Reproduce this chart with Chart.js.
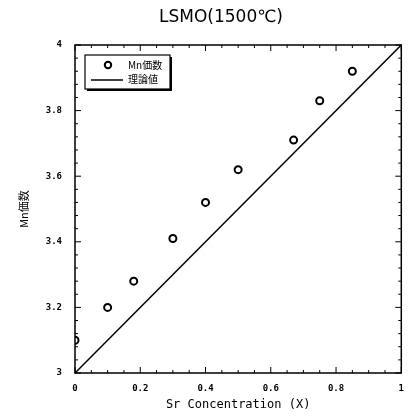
<!DOCTYPE html>
<html>
<head>
<meta charset="utf-8">
<script src="https://cdn.jsdelivr.net/npm/chart.js@4/dist/chart.umd.min.js"></script>
<style>
  html, body { margin: 0; padding: 0; background: #fff; }
  #wrap { width: 414px; height: 419px; }
</style>
</head>
<body>
<div id="wrap"><canvas id="mnChart" width="414" height="419"></canvas></div>
<script>
// measured points, Sr concentration vs Mn valence
const srConc = [0, 0.1, 0.18, 0.3, 0.4, 0.5, 0.67, 0.75, 0.85];
const mnValence = [3.10, 3.20, 3.28, 3.41, 3.52, 3.62, 3.71, 3.83, 3.92];
// theoretical line
const theoryX = [0, 1];
const theoryY = [3, 4];
const xTickLabels = ['0', '0.2', '0.4', '0.6', '0.8', '1'];
const yTickLabels = ['3', '3.2', '3.4', '3.6', '3.8', '4'];
const legendLabels = ['Mn価数', '理論値'];

const tickFont = { family: 'DejaVu Sans Mono', size: 9, weight: 'bold' };

// ticks pointing inward on all four sides + frame + title + legend
const framePlugin = {
  id: 'frame',
  afterDraw(chart) {
    const ctx = chart.ctx;
    const a = chart.chartArea;
    const xs = chart.scales.x, ys = chart.scales.y;
    ctx.save();
    ctx.strokeStyle = '#000';
    ctx.lineWidth = 1.5;
    ctx.strokeRect(a.left, a.top, a.right - a.left, a.bottom - a.top);

    ctx.lineWidth = 1;
    ctx.beginPath();
    for (let i = 0; i <= 20; i++) {
      const px = xs.getPixelForValue(i * 0.05);
      const len = i % 4 === 0 ? 6 : 3;
      ctx.moveTo(px, a.bottom); ctx.lineTo(px, a.bottom - len);
      ctx.moveTo(px, a.top); ctx.lineTo(px, a.top + len);
    }
    for (let i = 0; i <= 25; i++) {
      const py = ys.getPixelForValue(3 + i * 0.04);
      const len = i % 5 === 0 ? 6 : 3;
      ctx.moveTo(a.left, py); ctx.lineTo(a.left + len, py);
      ctx.moveTo(a.right, py); ctx.lineTo(a.right - len, py);
    }
    ctx.stroke();

    // title
    ctx.fillStyle = '#000';
    ctx.font = '17px "DejaVu Sans"';
    ctx.textAlign = 'center';
    ctx.textBaseline = 'middle';
    ctx.fillText('LSMO(1500℃)', 221, 18);

    // legend box
    const bx = 85, by = 55, bw = 85, bh = 34;
    ctx.fillStyle = '#000';
    ctx.fillRect(bx + 2, by + 2, bw, bh);
    ctx.fillStyle = '#fff';
    ctx.fillRect(bx, by, bw, bh);
    ctx.lineWidth = 1.2;
    ctx.strokeRect(bx, by, bw, bh);

    ctx.beginPath();
    ctx.arc(108, 65, 3.2, 0, Math.PI * 2);
    ctx.lineWidth = 2;
    ctx.stroke();
    ctx.beginPath();
    ctx.moveTo(91, 80); ctx.lineTo(123, 80);
    ctx.lineWidth = 1.5;
    ctx.stroke();

    ctx.fillStyle = '#000';
    ctx.font = '10px "Noto Sans CJK JP"';
    ctx.textAlign = 'left';
    ctx.fillText(legendLabels[0], 128, 65);
    ctx.fillText(legendLabels[1], 128, 79);
    ctx.restore();
  }
};

new Chart(document.getElementById('mnChart'), {
  type: 'scatter',
  data: {
    datasets: [{
      label: legendLabels[0],
      data: srConc.map((x, i) => ({ x: x, y: mnValence[i] })),
      pointStyle: 'circle',
      pointRadius: 3.5,
      pointBorderWidth: 2,
      pointBackgroundColor: '#fff',
      pointBorderColor: '#000',
      showLine: false
    }, {
      label: legendLabels[1],
      data: theoryX.map((x, i) => ({ x: x, y: theoryY[i] })),
      showLine: true,
      borderColor: '#000',
      borderWidth: 1.5,
      pointRadius: 0,
      order: 1
    }]
  },
  options: {
    responsive: false,
    animation: false,
    layout: { padding: { left: 0, right: 8, top: 45, bottom: 0 } },
    plugins: {
      legend: { display: false },
      title: { display: false },
      tooltip: { enabled: false }
    },
    scales: {
      x: {
        type: 'linear',
        min: 0, max: 1,
        afterFit: s => { s.height = 46; },
        ticks: {
          stepSize: 0.2,
          autoSkip: false,
          maxRotation: 0,
          padding: 10,
          color: '#000',
          font: tickFont,
          callback: (v, i) => xTickLabels[i]
        },
        grid: { drawOnChartArea: false, drawTicks: false },
        border: { display: false },
        title: {
          display: true,
          text: 'Sr Concentration (X)',
          color: '#000',
          font: { family: 'DejaVu Sans Mono', size: 12 },
          padding: { top: 0, bottom: 7 }
        }
      },
      y: {
        type: 'linear',
        min: 3, max: 4,
        afterFit: s => { s.width = 75; },
        ticks: {
          stepSize: 0.2,
          autoSkip: false,
          padding: 13,
          color: '#000',
          font: tickFont,
          callback: (v, i) => yTickLabels[i]
        },
        grid: { drawOnChartArea: false, drawTicks: false },
        border: { display: false },
        title: {
          display: true,
          text: 'Mn価数',
          color: '#000',
          font: { family: 'Noto Sans CJK JP', size: 11 },
          padding: { top: 17, bottom: 0 }
        }
      }
    }
  },
  plugins: [framePlugin]
});
</script>
</body>
</html>
